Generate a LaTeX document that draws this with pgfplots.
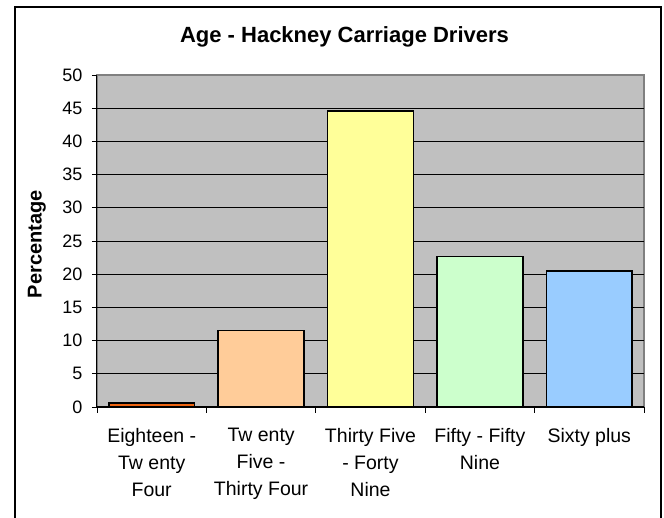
\documentclass[border=0pt]{standalone}
\usepackage{fontspec}
\setmainfont{Liberation Sans}
\usepackage{pgfplots}
\pgfplotsset{compat=1.18}
\definecolor{plotgray}{HTML}{C0C0C0}
\definecolor{edgegray}{HTML}{808080}
\definecolor{barA}{HTML}{EE6411}
\definecolor{barB}{HTML}{FFCC99}
\definecolor{barC}{HTML}{FFFF99}
\definecolor{barD}{HTML}{CCFFCC}
\definecolor{barE}{HTML}{99CCFF}

\begin{document}
\begin{tikzpicture}
% page = 664 x 518, axis box lower left at the origin
\path[use as bounding box, fill=white] (-97pt,-111pt) rectangle (567pt,407pt);
\draw[black, line width=1.6pt] (-82pt,-130pt) -- (-82pt,400pt) -- (564pt,400pt) -- (564pt,-130pt);
\begin{axis}[
    scale only axis,
    width=547pt, height=332pt,
    xmin=-0.5, xmax=4.5, ymin=0, ymax=50,
    axis lines=left,
    axis line style={-, black, line width=1pt},
    axis background/.style={fill=plotgray, draw=edgegray, line width=1.5pt},
    ytick={0,5,...,45},
    extra y ticks={50},
    extra y tick style={grid=none},
    ymajorgrids,
    major grid style={black, line width=0.8pt},
    tick align=outside,
    major tick length=5pt, minor tick length=6pt,
    tick style={black, line width=0.8pt},
    xtick={0,1,2,3,4},
    major x tick style={draw=none},
    minor xtick={-0.5,0.5,1.5,2.5,3.5,4.5},
    xticklabels={
      {Eighteen -\\Tw enty\\Four},
      {Tw enty\\Five -\\Thirty Four},
      {Thirty Five\\- Forty\\Nine},
      {Fifty - Fifty\\Nine},
      {Sixty plus}
    },
    xticklabel style={align=center, anchor=north, yshift=-13pt,
      font=\fontsize{19.5}{27}\selectfont},
    yticklabel style={font=\fontsize{18}{21}\selectfont, xshift=-6pt},
    /pgf/number format/assume math mode=true,
    every axis title shift=0pt,
    title={Age - Hackney Carriage Drivers},
    title style={at={(axis description cs:0.4525,1.1145)}, anchor=center,
      font=\bfseries\fontsize{22}{26}\selectfont},
    ylabel={Percentage},
    ylabel style={at={(axis description cs:-0.11,0.49)}, anchor=center,
      font=\bfseries\fontsize{20}{24}\selectfont},
]
\addplot[ybar, bar width=0.785, bar shift=0pt, fill=barA, draw=black, line width=1.5pt] coordinates {(0,0.6)};
\addplot[ybar, bar width=0.785, bar shift=0pt, fill=barB, draw=black, line width=1.5pt] coordinates {(1,11.5)};
\addplot[ybar, bar width=0.785, bar shift=0pt, fill=barC, draw=black, line width=1.5pt] coordinates {(2,44.6)};
\addplot[ybar, bar width=0.785, bar shift=0pt, fill=barD, draw=black, line width=1.5pt] coordinates {(3,22.7)};
\addplot[ybar, bar width=0.785, bar shift=0pt, fill=barE, draw=black, line width=1.5pt] coordinates {(4,20.5)};
\end{axis}
\end{tikzpicture}
\end{document}
